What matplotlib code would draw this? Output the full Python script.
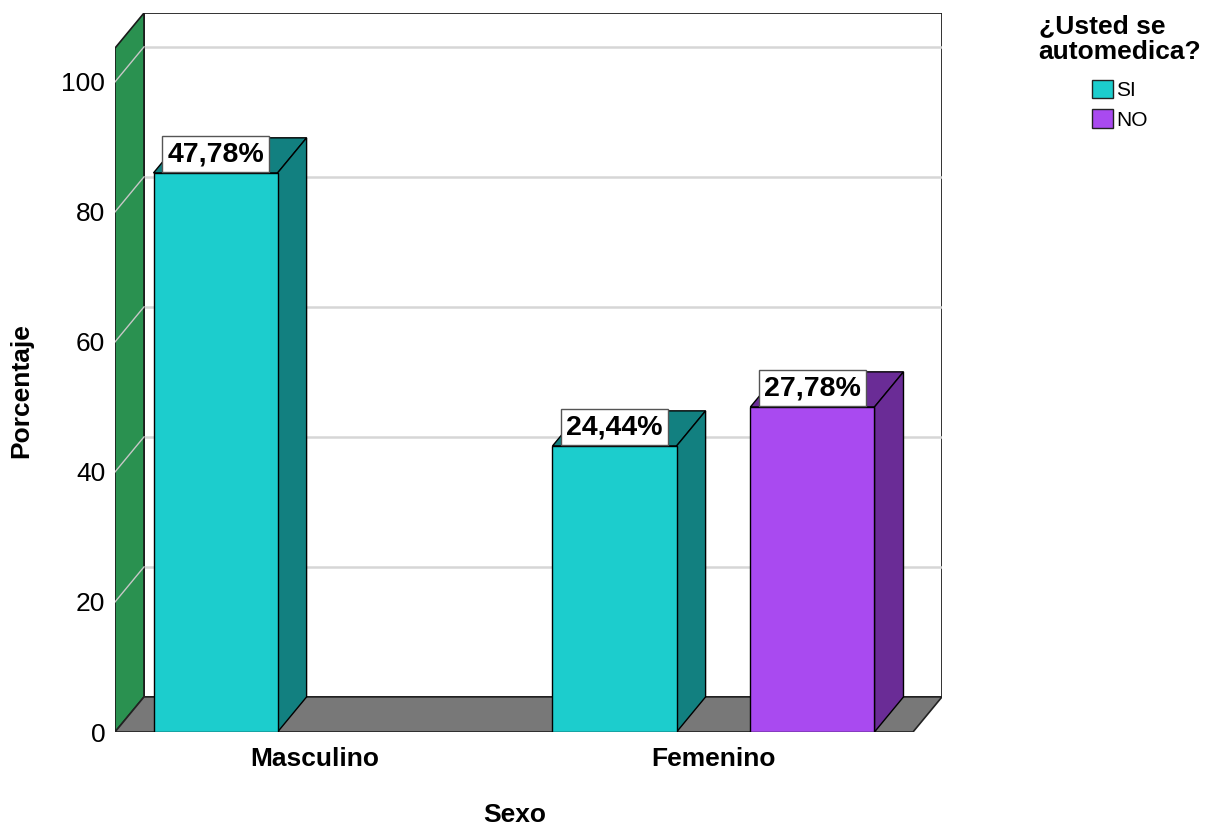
import matplotlib.pyplot as plt
from matplotlib.patches import Polygon, Rectangle, Patch

plt.rcParams['font.family'] = ['Liberation Sans', 'DejaVu Sans']

categories = ['Masculino', 'Femenino']
series = ['SI', 'NO']
si_values = [86.0, 44.0]
no_values = [None, 50.0]
si_labels = ['47,78%', '24,44%']
no_labels = [None, '27,78%']
yticks = [0, 20, 40, 60, 80, 100]

colors = {'SI': ('#1ccdcd', '#128080'), 'NO': ('#a94af0', '#6a2c96')}

fig = plt.figure(figsize=(12.07, 8.25), dpi=100)
ax = fig.add_axes([115 / 1207, 93 / 825, 827 / 1207, 719 / 825])

# depth of the fake 3d box, in data units
DX, DY = 0.0727, 5.4
TOP = 105.2
X0, X1 = -0.5, 1.5
W = 0.311
OFF = 0.248

ax.set_xlim(X0, X1 + DX)
ax.set_ylim(0, TOP + DY)

# back wall + grid
ax.add_patch(Rectangle((X0 + DX, DY), X1 - X0, TOP, fc='white', ec='#222222', lw=1.3, zorder=0))
for v in yticks[1:]:
    ax.plot([X0 + DX, X1 + DX], [v + DY, v + DY], color='#d6d6d6', lw=1.8, zorder=1)

# left wall
ax.add_patch(Polygon([(X0, 0), (X0 + DX, DY), (X0 + DX, TOP + DY), (X0, TOP)],
                     fc='#2a9150', ec='#1a1a1a', lw=1.2, zorder=2))
for v in yticks[1:]:
    ax.plot([X0, X0 + DX], [v, v + DY], color='#c8c8c8', lw=1, zorder=3)

# floor
ax.add_patch(Polygon([(X0, 0), (X1, 0), (X1 + DX, DY), (X0 + DX, DY)],
                     fc='#787878', ec='#222222', lw=1.2, zorder=2))


def bar3d(xc, h, name, label):
    face, dark = colors[name]
    l, r = xc - W / 2, xc + W / 2
    ax.add_patch(Polygon([(l, h), (r, h), (r + DX, h + DY), (l + DX, h + DY)],
                         fc=dark, ec='black', lw=1, zorder=4))
    ax.add_patch(Polygon([(r, 0), (r + DX, DY), (r + DX, h + DY), (r, h)],
                         fc=dark, ec='black', lw=1, zorder=4))
    ax.add_patch(Rectangle((l, 0), W, h, fc=face, ec='black', lw=1, zorder=5))
    ax.text(xc, h + 0.9, label, ha='center', va='bottom', fontsize=20.5, fontweight='bold',
            zorder=6, bbox=dict(boxstyle='square,pad=0.18', fc='white', ec='#555555', lw=1))


for i, cat in enumerate(categories):
    if si_values[i] is not None:
        bar3d(i - OFF, si_values[i], 'SI', si_labels[i])
    if no_values[i] is not None:
        bar3d(i + OFF, no_values[i], 'NO', no_labels[i])

for s in ax.spines.values():
    s.set_visible(False)
ax.set_yticks(yticks)
ax.set_xticks(range(len(categories)), categories, fontweight='bold')
ax.tick_params(axis='y', length=0, pad=7, labelsize=19)
ax.tick_params(axis='x', length=0, pad=11, labelsize=19)

fig.text(515 / 1207, 1 - 815 / 825, 'Sexo', ha='center', va='center', fontsize=19, fontweight='bold')
fig.text(21 / 1207, 1 - 391 / 825, 'Porcentaje', ha='center', va='center', rotation=90,
         fontsize=19, fontweight='bold')

handles = [Patch(fc=colors[s][0], ec='#222222', label=s) for s in series]
leg = fig.legend(handles=handles, title='¿Usted se\nautomedica?', loc='upper center',
                 bbox_to_anchor=(1120 / 1207, 1 - 4 / 825), frameon=False, fontsize=15,
                 title_fontproperties={'weight': 'bold', 'size': 19}, alignment='center',
                 handlelength=1.0, handleheight=1.0, handletextpad=0.15, labelspacing=0.45,
                 borderpad=0)
leg.get_title().set_linespacing(1.1)
leg._legend_box.sep = 11

fig.savefig('out.png', dpi=100)
